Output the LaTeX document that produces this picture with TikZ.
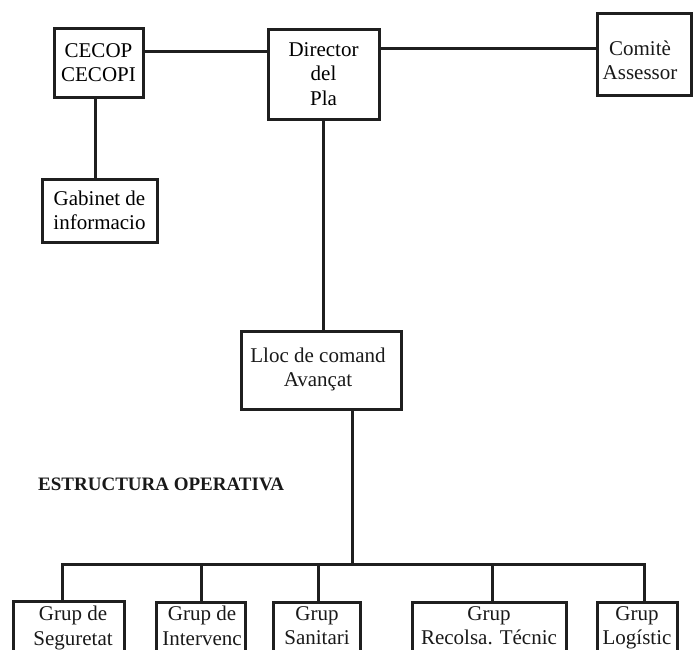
\documentclass[tikz,border=0pt]{standalone}
\usepackage{fontspec}
\setmainfont{Liberation Serif}
\begin{document}
\begin{tikzpicture}[x=1pt,y=-1pt,
  ln/.style={line width=3pt,draw=black!88},
  box/.style={ln,rectangle,inner sep=0pt,align=center,font=\fontsize{21}{24.5}\selectfont},
  txt/.style={inner sep=0pt,align=center,text=black!90,font=\fontsize{21}{24.5}\selectfont}]
\useasboundingbox (0,0) rectangle (695,649);
\clip (0,0) rectangle (695,649);
% top row
\node[box,minimum width=89pt,minimum height=69pt] (cecop) at (98.5,62.5) {CECOP\\CECOPI};
\node[box,minimum width=111pt,minimum height=90pt] (dir) at (323.5,74) {Director\\del\\Pla};
\node[box,minimum width=94pt,minimum height=82pt] (com) at (644,54) {};
\node[txt,anchor=north] (comt) at (640,40.5) {Comitè\\Assessor};
\node[box,minimum width=115pt,minimum height=63pt] (gab) at (99.5,210.5) {Gabinet de\\informacio};
\node[box,minimum width=160pt,minimum height=78pt] (lloc) at (321,370) {};
\node[txt,anchor=north] (llost) at (318,347.5) {Lloc de comand\\Avançat};
\node[anchor=base west,inner sep=0pt,text=black!90,font=\fontsize{19}{22}\selectfont\bfseries] (est) at (38,490) {ESTRUCTURA OPERATIVA};
% bottom row
\node[box,minimum width=111pt,minimum height=90pt,anchor=north] (g1) at (68.5,600) {};
\node[box,minimum width=89pt,minimum height=90pt,anchor=north] (g2) at (200.5,601) {};
\node[box,minimum width=87pt,minimum height=90pt,anchor=north] (g3) at (316.5,601) {};
\node[box,minimum width=154pt,minimum height=90pt,anchor=north] (g4) at (489,601) {};
\node[box,minimum width=80pt,minimum height=90pt,anchor=north] (g5) at (637,601) {};
\node[txt,anchor=north] (g1t) at (73,606) {Grup de\\Seguretat};
\node[txt,anchor=north] (g2t) at (202,606) {Grup de\\Intervenc};
\node[txt,anchor=north] (g3t) at (317,606) {Grup\\Sanitari};
\node[txt,anchor=north] (g4t) at (489,606) {Grup\\Recolsa. Técnic};
\node[txt,anchor=north] (g5t) at (637,606) {Grup\\Logístic};
% connector helpers
\coordinate (h1) at (0,51);
\coordinate (h2) at (0,48);
\coordinate (v1) at (95,0);
\coordinate (v2) at (323,0);
\coordinate (v3) at (352,0);
\coordinate (bar) at (0,564);
\coordinate (s1) at (62,0);
\coordinate (s2) at (201,0);
\coordinate (s3) at (318,0);
\coordinate (s4) at (492,0);
\coordinate (s5) at (644,0);
\draw[ln] (cecop.east |- h1) -- (dir.west |- h1);
\draw[ln] (dir.east |- h2) -- (com.west |- h2);
\draw[ln] (cecop.south -| v1) -- (gab.north -| v1);
\draw[ln] (dir.south -| v2) -- (lloc.north -| v2);
\draw[ln] (lloc.south -| v3) -- (bar -| v3);
\draw[ln] (g1.north -| s1) -- (bar -| s1) -- (bar -| s5) -- (g5.north -| s5);
\draw[ln] (bar -| s2) -- (g2.north -| s2);
\draw[ln] (bar -| s3) -- (g3.north -| s3);
\draw[ln] (bar -| s4) -- (g4.north -| s4);
\end{tikzpicture}
\end{document}
